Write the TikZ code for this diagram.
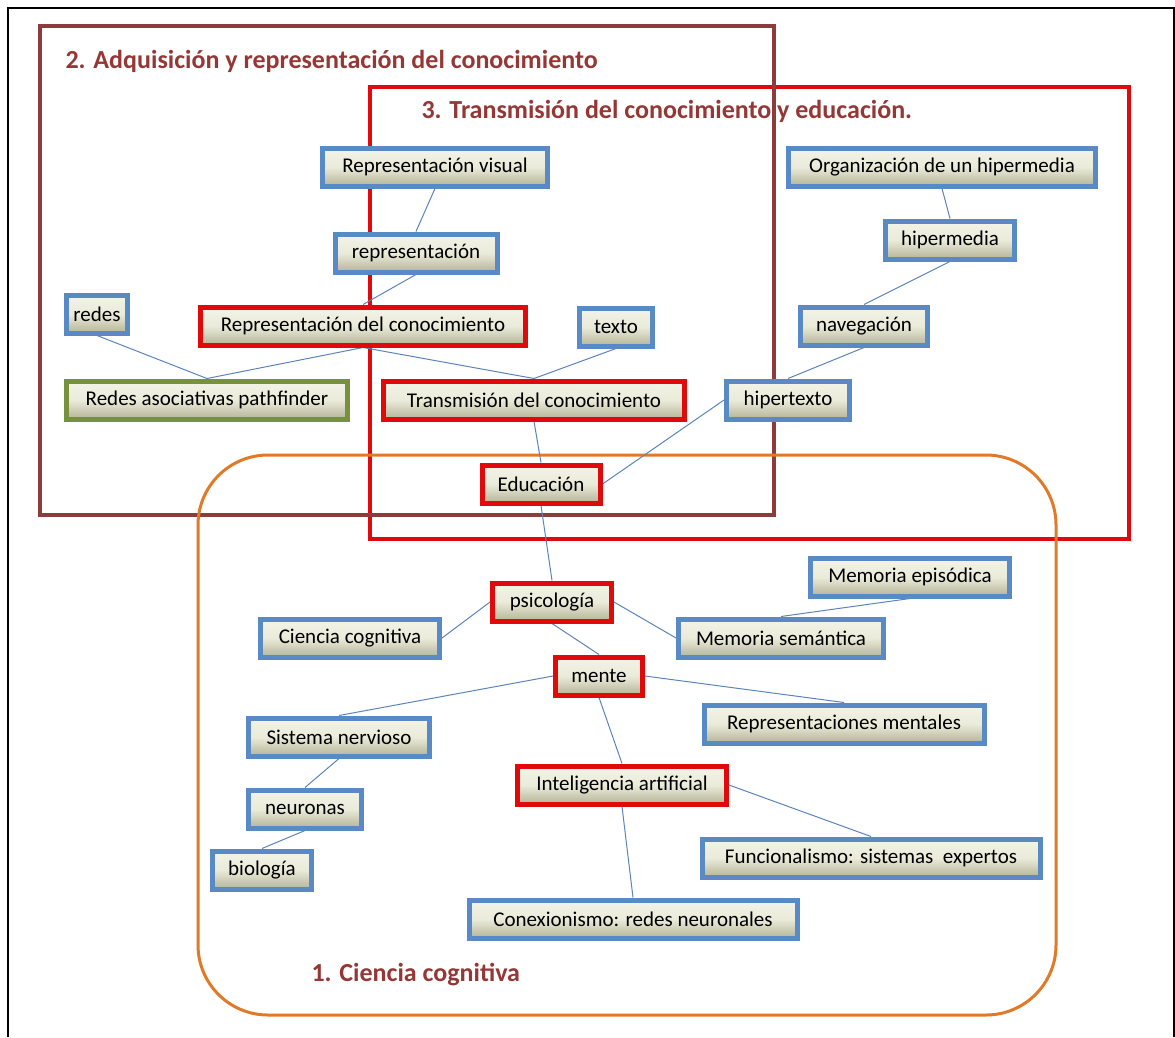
\documentclass[tikz,border=0pt]{standalone}
\usepackage{fontspec}
\setmainfont{Carlito}
\usepackage{tikz}
\usetikzlibrary{backgrounds}
\definecolor{cmBlue}{HTML}{5A8AC6}
\definecolor{cmRed}{HTML}{E00A0A}
\definecolor{cmGreen}{HTML}{77923C}
\definecolor{cmTop}{HTML}{F3F3E8}
\definecolor{cmMid}{HTML}{EBEBDA}
\definecolor{cmBot}{HTML}{B4B498}
\definecolor{cmLink}{HTML}{5B84BC}
\definecolor{cmWine}{HTML}{8E3B3B}
\definecolor{cmOrange}{HTML}{E07A28}
\definecolor{cmTitle}{HTML}{953735}

\tikzset{
    concept/.style={draw=cmBlue, line width=5pt, top color=cmTop, bottom color=cmBot,
        middle color=cmMid, minimum height=38pt, inner xsep=6pt,
        font=\fontsize{21}{25}\selectfont},
    keyconcept/.style={concept, draw=cmRed},
    pathconcept/.style={concept, draw=cmGreen},
    link/.style={draw=cmLink, line width=1pt},
    areatitle/.style={anchor=west, text=cmTitle, font=\fontsize{26}{30}\selectfont\bfseries},
}

\begin{document}
\begin{tikzpicture}[x=1pt, y=-1pt]
    \useasboundingbox (0,0) rectangle (1175,1037);

    % 2. adquisicion y representacion
    \node[concept, minimum width=225pt] (repvis) at (435,167) {Representación visual};
    \node[concept, minimum width=162pt] (repre) at (416,253) {representación};
    \node[concept, minimum width=61pt] (redes) at (97,314) {redes};
    \node[keyconcept, minimum width=325pt] (repcon) at (363,326) {Representación del conocimiento};
    \node[concept, minimum width=73pt] (texto) at (616,327) {texto};
    \node[pathconcept, minimum width=281pt] (redasoc) at (207,400) {Redes asociativas pathfinder};
    \node[keyconcept, minimum width=301pt] (transm) at (534,400) {Transmisión del conocimiento};

    % 3. transmision y educacion
    \node[concept, minimum width=307pt] (orghip) at (942,167) {Organización de un hipermedia};
    \node[concept, minimum width=129pt] (hipermedia) at (950,240) {hipermedia};
    \node[concept, minimum width=127pt] (naveg) at (864,326) {navegación};
    \node[concept, minimum width=123pt] (hipertexto) at (788,400) {hipertexto};
    \node[keyconcept, minimum width=118pt] (educ) at (541,484) {Educación};

    % 1. ciencia cognitiva
    \node[keyconcept, minimum width=119pt] (psico) at (552,602) {psicología};
    \node[concept, minimum width=179pt] (ciencia) at (350,638) {Ciencia cognitiva};
    \node[concept, minimum width=199pt] (memepi) at (910,577) {Memoria episódica};
    \node[concept, minimum width=205pt] (memsem) at (781,638) {Memoria semántica};
    \node[keyconcept, minimum width=87pt] (mente) at (599,676) {mente};
    \node[concept, minimum width=181pt] (sisnerv) at (339,737) {Sistema nervioso};
    \node[concept, minimum width=280pt] (repment) at (844,724) {Representaciones mentales};
    \node[concept, minimum width=113pt] (neuronas) at (305,809) {neuronas};
    \node[keyconcept, minimum width=209pt] (ia) at (622,785) {Inteligencia artificial};
    \node[concept, minimum width=99pt] (biologia) at (262,870) {biología};
    \node[concept, minimum width=338pt] (funcional) at (871,858) {Funcionalismo: sistemas\ \ expertos};
    \node[concept, minimum width=328pt] (conex) at (633,919) {Conexionismo: redes neuronales};

    \begin{scope}[on background layer]
        % outer frame, open at the bottom
        \draw[line width=2.5pt] (8,1037) |- (1174,8) -- (1174,1037);

        % areas
        \node[areatitle] (tit3) at (418,111) {3. Transmisión del conocimiento y educación.};
        \draw[cmRed, line width=4pt] (370,87) rectangle (1129,539);
        \node[areatitle] (tit2) at (62,61) {2. Adquisición y representación del conocimiento};
        \draw[cmWine, line width=4pt] (40,26) rectangle (774,515);
        \draw[cmOrange, line width=3pt, rounded corners=70pt] (198,455) rectangle (1056,1015);
        \node[areatitle] (tit1) at (308,975) {1. Ciencia cognitiva};

        % links
        \draw[link] (repvis.south) -- (repre.north);
        \draw[link] (repre.south) -- (repcon.north);
        \draw[link] (redes.south) -- (redasoc.north);
        \draw[link] (repcon.south) -- (redasoc.north);
        \draw[link] (repcon.south) -- (transm.north);
        \draw[link] (texto.south) -- (transm.north);
        \draw[link] (transm.south) -- (educ.north);
        \draw[link] (orghip.south) -- (hipermedia.north);
        \draw[link] (hipermedia.south) -- (naveg.north);
        \draw[link] (naveg.south) -- (hipertexto.north);
        \draw[link] (hipertexto.west) -- (educ.east);
        \draw[link] (educ.south) -- (psico.north);
        \draw[link] (psico.west) -- (ciencia.east);
        \draw[link] (psico.east) -- (memsem.west);
        \draw[link] (memepi.south) -- (memsem.north);
        \draw[link] (psico.south) -- (mente.north);
        \draw[link] (mente.west) -- (sisnerv.north);
        \draw[link] (mente.east) -- (repment.north);
        \draw[link] (mente.south) -- (ia.north);
        \draw[link] (sisnerv.south) -- (neuronas.north);
        \draw[link] (neuronas.south) -- (biologia.north);
        \draw[link] (ia.east) -- (funcional.north);
        \draw[link] (ia.south) -- (conex.north);
    \end{scope}
\end{tikzpicture}
\end{document}
